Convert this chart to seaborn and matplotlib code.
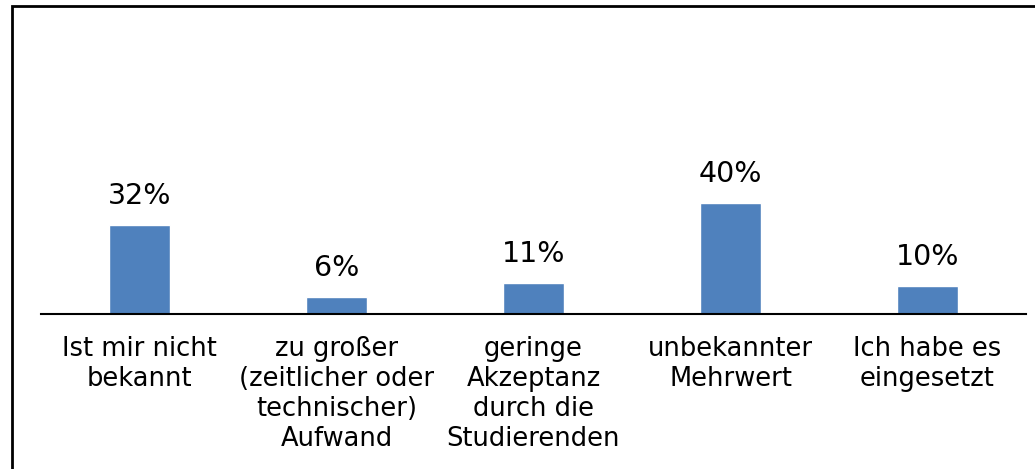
import matplotlib
matplotlib.use('Agg')
import matplotlib.pyplot as plt
import matplotlib.patches as patches
import seaborn as sns
import pandas as pd

# data
categories = ['Ist mir nicht\nbekannt',
              'zu großer\n(zeitlicher oder\ntechnischer)\nAufwand',
              'geringe\nAkzeptanz\ndurch die\nStudierenden',
              'unbekannter\nMehrwert',
              'Ich habe es\neingesetzt']
values = [32, 6, 11, 40, 10]
labels = ['32%', '6%', '11%', '40%', '10%']

df = pd.DataFrame({'grund': categories, 'anteil': values})

sns.set_style('white')
plt.rcParams['font.family'] = ['DejaVu Sans']
plt.rcParams['text.color'] = 'black'
plt.rcParams['xtick.color'] = 'black'

fig = plt.figure(figsize=(10.35, 4.69), dpi=100)
ax = fig.add_axes([41 / 1035, 1 - 314 / 469, 985 / 1035, 278 / 469])

sns.barplot(data=df, x='grund', y='anteil', color='#4F81BD', saturation=1,
            width=0.31, ax=ax)
ax.bar_label(ax.containers[0], labels=labels, padding=11, fontsize=20.5,
             color='black')

ax.set_xlim(-0.5, 4.5)
ax.set_ylim(0, 100)
ax.set_xlabel('')
ax.set_ylabel('')
ax.set_yticks([])
ax.tick_params(axis='x', length=0, pad=16, labelsize=18.5, labelcolor='black')
for lbl in ax.get_xticklabels():
    lbl.set_linespacing(1.2)
sns.despine(ax=ax, left=True, top=True, right=True)
ax.spines['bottom'].set_color('black')
ax.spines['bottom'].set_linewidth(1.5)

# outer frame (cut off at right and bottom like the reference)
frame = patches.Rectangle((11.5 / 1035, -0.1), 1.2, 1 - 6.5 / 469 + 0.1,
                          transform=fig.transFigure, fill=False,
                          edgecolor='black', linewidth=2, clip_on=False)
fig.add_artist(frame)

fig.savefig('out.png', dpi=100)
